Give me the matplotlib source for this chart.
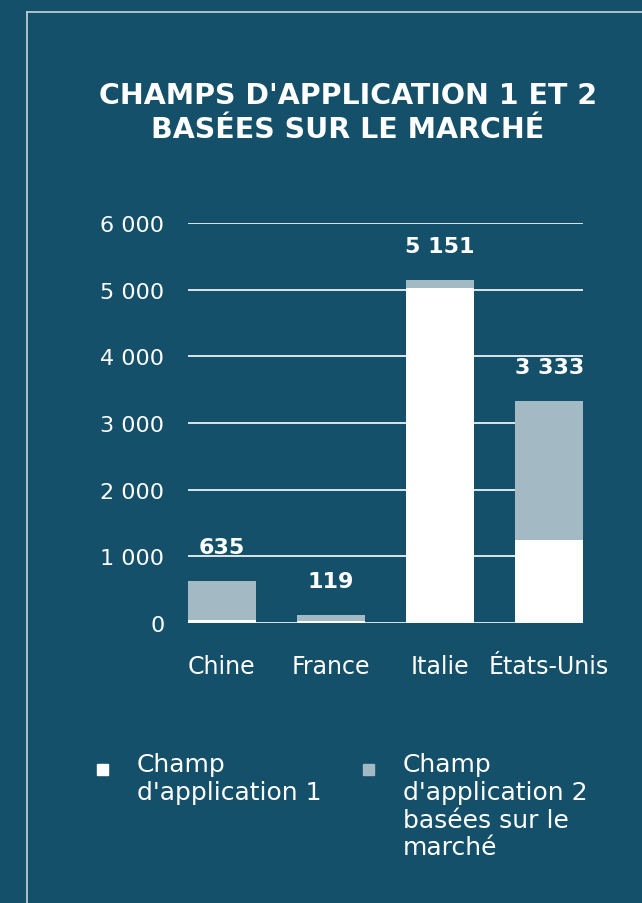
import matplotlib
matplotlib.use("Agg")
import matplotlib.pyplot as plt
from matplotlib.lines import Line2D
from matplotlib.patches import Rectangle
import numpy as np

# values (field 1 + field 2 = label total)
COUNTRIES = ["Chine", "France", "Italie", "États-Unis"]
FIELD_1 = [50, 25, 5020, 1244]
FIELD_2 = [585, 94, 131, 2089]
TOTAL_LABELS = ["635", "119", "5 151", "3 333"]
Y_TICKS = [0, 1000, 2000, 3000, 4000, 5000, 6000]
Y_TICK_LABELS = ["0", "1 000", "2 000", "3 000", "4 000", "5 000", "6 000"]
LEGEND_LABELS = ["Champ\nd'application 1", "Champ\nd'application 2\nbasées sur le\nmarché"]
TITLE = "CHAMPS D'APPLICATION 1 ET 2\nBASÉES SUR LE MARCHÉ"

BG = "#145069"
GREY = "#a3b9c4"
WHITE = "#ffffff"
W, H = 642, 904

fig = plt.figure(figsize=(W / 100, H / 100), dpi=100)
fig.patch.set_facecolor(BG)

# thin frame (top and left edges)
fig.add_artist(Line2D([27 / W, 1], [1 - 12.5 / H] * 2, color="#b9cad3", lw=1.3))
fig.add_artist(Line2D([27 / W] * 2, [0, 1 - 12.5 / H], color="#b9cad3", lw=1.3))

fig.text(348 / W, 1 - 113 / H, TITLE, ha="center", va="center", color=WHITE,
         fontsize=20.5, fontweight="bold", family="DejaVu Sans", linespacing=1.25)

ax = fig.add_axes([188 / W, 1 - 624 / H, (583 - 188) / W, 400 / H])
ax.set_facecolor("none")
x = np.arange(len(COUNTRIES))
bw = 0.62
ax.bar(x, FIELD_1, width=bw, color=WHITE, zorder=3)
ax.bar(x, FIELD_2, width=bw, bottom=FIELD_1, color=GREY, zorder=3)

totals = np.array(FIELD_1) + np.array(FIELD_2)
for xi, t, lab in zip(x, totals, TOTAL_LABELS):
    ax.annotate(lab, (xi, t), xytext=(0, 17), textcoords="offset points",
                ha="center", va="bottom", color=WHITE, fontsize=16,
                fontweight="bold", family="DejaVu Sans", annotation_clip=False)

ax.set_xlim(-bw / 2, len(COUNTRIES) - 1 + bw / 2)
ax.set_ylim(0, 6000)
ax.set_yticks(Y_TICKS)
ax.set_yticklabels(Y_TICK_LABELS, family="DejaVu Sans", fontsize=16, color=WHITE)
ax.set_xticks(x)
ax.set_xticklabels(COUNTRIES, family="DejaVu Sans", fontsize=17, color=WHITE)
ax.tick_params(axis="y", length=0, pad=17)
ax.tick_params(axis="x", length=0, pad=22)
ax.grid(axis="y", color=WHITE, lw=1.2, zorder=0)
ax.set_axisbelow(True)
for s in ax.spines.values():
    s.set_visible(False)

# legend drawn by hand: square at the first line of each label
for (sx, tx), col, lab in zip([(97, 137), (363, 403)], [WHITE, GREY], LEGEND_LABELS):
    fig.add_artist(Rectangle((sx / W, 1 - 776 / H), 11 / W, 11 / H, color=col,
                             transform=fig.transFigure))
    fig.text(tx / W, 1 - 753 / H, lab, ha="left", va="top", color=WHITE,
             fontsize=18, family="DejaVu Sans", linespacing=1.2)

fig.savefig("out.png", dpi=100, facecolor=BG)
